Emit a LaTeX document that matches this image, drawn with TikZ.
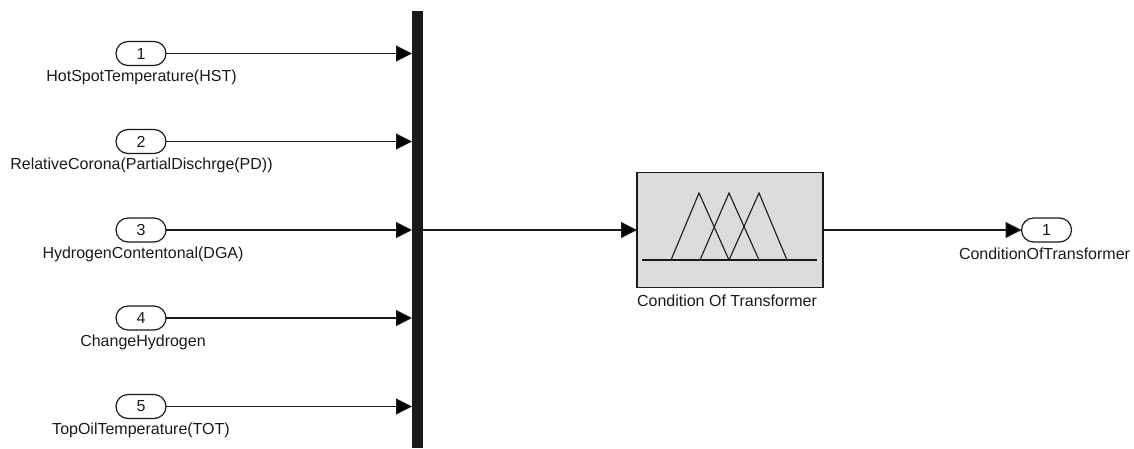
\documentclass[tikz,border=0pt]{standalone}
\usepackage{fontspec}
\setmainfont{Liberation Sans}
\usetikzlibrary{arrows.meta,shapes.misc}
\definecolor{ink}{HTML}{1A1A1A}
\definecolor{blockfill}{HTML}{DCDCDC}
\tikzset{
  x=1pt,y=-1pt,
  port/.style={draw=ink,line width=1.2pt,rounded rectangle,minimum width=50pt,minimum height=24pt,inner sep=0pt,outer sep=0pt,font=\fontsize{16}{16}\selectfont,text=ink},
  lbl/.style={inner sep=0pt,font=\fontsize{16}{16}\selectfont,text=ink},
  sig/.style={draw=ink,line width=1.2pt,-{Triangle[length=16pt,width=16pt,fill=black]}},
  mf/.style={draw=ink,line width=1.1pt,line join=miter},
}
\begin{document}
\begin{tikzpicture}
\useasboundingbox (0,0) rectangle (1134,448);
\node[fill=ink,inner sep=0pt,outer sep=0pt,minimum width=11pt,minimum height=437pt] (bus) at (417.5,229.5) {};
\node[port] (in1) at (141,53.5) {1};
\node[port] (in2) at (141,141.5) {2};
\node[port] (in3) at (141,230) {3};
\node[port] (in4) at (141,318) {4};
\node[port] (in5) at (141,406.5) {5};
\node[port] (out1) at (1046.5,230) {1};
\node[lbl] (l1) at (141.5,77) {HotSpotTemperature(HST)};
\node[lbl] (l2) at (141.5,165.5) {RelativeCorona(PartialDischrge(PD))};
\node[lbl] (l3) at (143,254) {HydrogenContentonal(DGA)};
\node[lbl] (l4) at (143,342.5) {ChangeHydrogen};
\node[lbl] (l5) at (141,430.5) {TopOilTemperature(TOT)};
\node[lbl] (l6) at (1044.5,254) {ConditionOfTransformer};
\node[draw=ink,line width=1.3pt,fill=blockfill,minimum width=186pt,minimum height=115pt,inner sep=0pt,outer sep=0pt] (blk) at (730,230) {};
\node[lbl] (l7) at (727,301) {Condition Of Transformer};
\draw[mf] (642,260) -- (817,260);
\draw[mf] (671,260) -- (699,193) -- (729,260);
\draw[mf] (700,260) -- (729,193) -- (759,260);
\draw[mf] (729,260) -- (759,193) -- (787,260);
\foreach \p in {in1,in2,in3,in4,in5}{
  \draw[sig] (\p.east) -- (\p.east -| bus.west);
}
\draw[sig] (bus.east |- blk.west) -- (blk.west);
\draw[sig] (blk.east) -- (out1.west);
\end{tikzpicture}
\end{document}
